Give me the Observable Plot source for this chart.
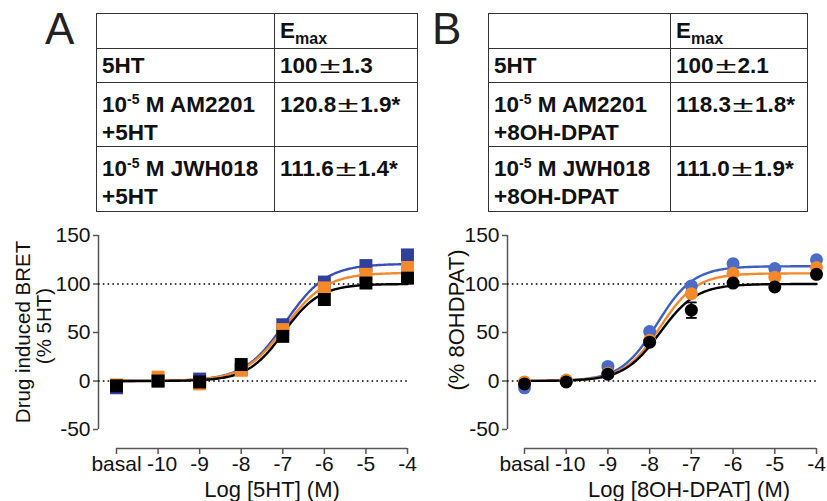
<!DOCTYPE html>
<html><head><meta charset="utf-8">
<script src="https://cdn.jsdelivr.net/npm/d3@7"></script>
<script src="https://cdn.jsdelivr.net/npm/@observablehq/plot@0.6"></script>
<style>
body{margin:0;background:#fff;}
#root{position:relative;width:827px;height:501px;overflow:hidden;font-family:Arial,"Liberation Sans",sans-serif;background:#fff;}
.letter{position:absolute;font-size:44px;color:#222;line-height:1;}
table.t{position:absolute;border-collapse:collapse;table-layout:fixed;font-weight:bold;font-size:22.5px;color:#111;}
table.t td{border:1.5px solid #333;vertical-align:top;padding:4px 0 0 5px;line-height:26px;white-space:nowrap;overflow:hidden;}
table.t tr.two td{padding-top:9px;}
.pm{display:inline-block;width:24px;text-align:center;font-weight:normal;transform:scaleX(1.7);}
.sp{font-size:14px;position:relative;top:-8px;}
.sub{font-size:16px;position:relative;top:6px;}
.panel{position:absolute;top:220px;}
</style>
</head><body><div id="root"></div>
<script>
// ---------- table data ----------
const agonistA = "5HT";
const agonistB = "8OH-DPAT";
const cannabinoids = ["AM2201", "JWH018"];
const pretreatConc = "10";
const pretreatExp = "-5";
const emaxA = [100, 120.8, 111.6];
const emaxSemA = [1.3, 1.9, 1.4];
const emaxSigA = [false, true, true];
const emaxB = [100, 118.3, 111.0];
const emaxSemB = [2.1, 1.8, 1.9];
const emaxSigB = [false, true, true];
const controlLabelB = "5HT";

// ---------- curve data ----------
const logConc = [-11, -10, -9, -8, -7, -6, -5, -4];
const xTickLabels = ["basal", "-10", "-9", "-8", "-7", "-6", "-5", "-4"];
const yTicks = [-50, 0, 50, 100, 150];
const refLines = [0, 100];

// Panel A (squares): 5HT alone, +AM2201, +JWH018
const respA_5HT    = [-5, 0, -1, 17, 46, 84, 101, 106];
const respA_AM2201 = [-7, 0, 2, 12, 58, 102, 119, 130];
const respA_JWH018 = [-4, 4, -3, 11, 53, 96, 110, 117];
const errA_5HT     = [2, 2, 2, 3, 3, 3, 2, 2];
const errA_AM2201  = [2, 2, 2, 2, 3, 3, 2, 2];
const errA_JWH018  = [2, 2, 2, 2, 3, 3, 2, 2];
const fitEC50A = [-6.98, -6.94, -6.95];
const fitHillA = [1.0, 0.88, 0.88];

// Panel B (circles): 8OH-DPAT alone, +AM2201, +JWH018
const respB_8OH    = [-3, -1, 7, 40, 73, 101, 97, 110];
const respB_AM2201 = [-7, 0, 15, 51, 98, 121, 116, 125];
const respB_JWH018 = [-1, 1, 8, 42, 90, 111, 107, 117];
const errB_8OH     = [2, 1, 2, 3, 8, 2, 3, 3];
const errB_AM2201  = [2, 1, 3, 3, 3, 2, 2, 2];
const errB_JWH018  = [2, 1, 2, 3, 3, 2, 2, 2];
const fitEC50B = [-7.75, -7.82, -7.75];
const fitHillB = [1.0, 1.0, 1.0];

const root = document.getElementById("root");

// ---------- letters ----------
function letter(t, left) {
  const d = document.createElement("div");
  d.className = "letter"; d.textContent = t;
  d.style.left = left + "px"; d.style.top = "7px";
  root.appendChild(d);
}
letter("A", 45);
letter("B", 432);

// ---------- tables ----------
function fmt(v) { return v === 100 ? "100" : v.toFixed(1); }
function makeTable(left, colW, agonist, control, emax, sem, sig) {
  const rows = [
    {cls: "", c1: "", c2: 'E<span class="sub">max</span>', h: 35},
    {cls: "", c1: control, c2: fmt(emax[0]) + '<span class="pm">±</span>' + sem[0].toFixed(1) + (sig[0] ? "*" : ""), h: 34},
  ];
  cannabinoids.forEach((c, i) => {
    rows.push({cls: "two",
      c1: pretreatConc + '<span class="sp">' + pretreatExp + '</span> M ' + c + "<br>+" + agonist,
      c2: fmt(emax[i + 1]) + '<span class="pm">±</span>' + sem[i + 1].toFixed(1) + (sig[i + 1] ? "*" : ""),
      h: i === 0 ? 64 : 65});
  });
  const t = document.createElement("table");
  t.className = "t";
  t.style.left = left + "px"; t.style.top = "13px";
  t.style.width = (colW[0] + colW[1]) + "px";
  t.innerHTML = `<colgroup><col style="width:${colW[0]}px"><col style="width:${colW[1]}px"></colgroup>` +
    rows.map(r => `<tr class="${r.cls}" style="height:${r.h}px"><td>${r.c1}</td><td>${r.c2}</td></tr>`).join("");
  root.appendChild(t);
}
makeTable(96, [178, 143], agonistA, agonistA, emaxA, emaxSemA, emaxSigA);
makeTable(488, [182, 137], agonistB, controlLabelB, emaxB, emaxSemB, emaxSigB);

// ---------- charts ----------
const capSymbol = {draw(ctx, size) { const w = Math.sqrt(size); ctx.moveTo(-w, 0); ctx.lineTo(w, 0); }};

function makePanel(cfg) {
  const H = 281, MT = 15, MB = 53;
  const xmin = d3.min(logConc), xmax = d3.max(logConc);
  const pxX = (cfg.width - cfg.marginRight - cfg.marginLeft - cfg.yGap) / (xmax - xmin);
  const x0 = xmin - cfg.yGap / pxX;
  const pxY = (H - MT - MB - cfg.xGap) / (yTicks[yTicks.length - 1] - yTicks[0]);
  const y0 = yTicks[0] - cfg.xGap / pxY;
  const grid = d3.range(xmin, xmax + 0.001, 0.05);
  const shifted = logConc[1]; // "-10" label sits a little right of its tick
  const axisStyle = {stroke: "#555", strokeWidth: 1.5, fill: "#111", label: null};
  const marks = [
    Plot.ruleX([{x: x0, y1: yTicks[0], y2: yTicks[yTicks.length - 1]}], {x: "x", y1: "y1", y2: "y2", stroke: "#555", strokeWidth: 1.5}),
    Plot.ruleY([{y: y0, x1: xmin, x2: xmax}], {y: "y", x1: "x1", x2: "x2", stroke: "#555", strokeWidth: 1.5}),
    Plot.axisY({...axisStyle, ticks: yTicks, tickSize: 5, tickPadding: 3,
      tickFormat: d => (d < 0 ? "-" + Math.abs(d) : String(d))}),
    Plot.axisX({...axisStyle, ticks: logConc, tickSize: 6, tickPadding: 2,
      tickFormat: d => (d === shifted ? "" : xTickLabels[logConc.indexOf(d)])}),
    Plot.axisX({...axisStyle, ticks: [shifted], tickSize: 0, tickPadding: 8, dx: 4,
      tickFormat: d => xTickLabels[logConc.indexOf(d)]}),
    Plot.ruleY(refLines.map(v => ({y: v, x1: x0, x2: xmax})), {y: "y", x1: "x1", x2: "x2", stroke: "#000", strokeWidth: 1.6, strokeDasharray: "1.6 3.2"}),
  ];
  // draw order: AM2201 (blue), JWH018 (orange), control (black)
  const order = [1, 2, 0];
  order.forEach(i => {
    const s = cfg.series[i];
    const pts = grid.map(x => ({x, y: s.top / (1 + Math.pow(10, s.hill * (s.ec50 - x)))}));
    marks.push(Plot.line(pts, {x: "x", y: "y", stroke: s.lineColor, strokeWidth: 2.4}));
  });
  order.forEach(i => {
    const s = cfg.series[i];
    const pts = logConc.map((x, j) => ({x, y: s.resp[j], lo: s.resp[j] - s.err[j], hi: s.resp[j] + s.err[j]}));
    marks.push(Plot.ruleX(pts, {x: "x", y1: "lo", y2: "hi", stroke: s.color, strokeWidth: 1.8}));
    marks.push(Plot.dot(pts, {x: "x", y: "lo", symbol: capSymbol, r: 3, stroke: s.color, strokeWidth: 1.8}));
    marks.push(Plot.dot(pts, {x: "x", y: "hi", symbol: capSymbol, r: 3, stroke: s.color, strokeWidth: 1.8}));
    marks.push(Plot.dot(pts, {x: "x", y: "y", symbol: cfg.symbol, r: cfg.r, fill: s.color, stroke: "none"}));
  });
  cfg.ytitles.forEach(t => marks.push(Plot.text([t.text], {frameAnchor: "left", rotate: -90, dx: t.dx, dy: t.dy, fontSize: t.size, fill: "#111", lineAnchor: "middle", textAnchor: "middle"})));
  marks.push(Plot.text([cfg.xtitle], {frameAnchor: "bottom", dx: cfg.xtitleDx, dy: 41, fontSize: 22, fill: "#111", lineAnchor: "middle", textAnchor: "middle"}));
  const svg = Plot.plot({
    width: cfg.width, height: H, marginTop: MT, marginBottom: MB,
    marginLeft: cfg.marginLeft, marginRight: cfg.marginRight,
    x: {domain: [x0, xmax]}, y: {domain: [y0, yTicks[yTicks.length - 1]]},
    style: {fontFamily: "Arial, 'Liberation Sans', sans-serif", fontSize: "21px", background: "transparent", overflow: "visible", color: "#111"},
    marks
  });
  svg.classList.add("panel");
  svg.style.left = cfg.left + "px";
  svg.style.position = "absolute";
  svg.style.top = "220px";
  root.appendChild(svg);
}

const blueA = "#2f3f9c", blueLineA = "#3a50b3";
const blueB = "#4a6cc6", blueLineB = "#3f5fbd";
const orange = "#f28a2b", black = "#000";

makePanel({
  left: 0, width: 420, marginLeft: 98, marginRight: 13, yGap: 18, xGap: 19,
  symbol: "square", r: 7.3,
  series: [
    {resp: respA_5HT, err: errA_5HT, top: emaxA[0], ec50: fitEC50A[0], hill: fitHillA[0], color: black, lineColor: black},
    {resp: respA_AM2201, err: errA_AM2201, top: emaxA[1], ec50: fitEC50A[1], hill: fitHillA[1], color: blueA, lineColor: blueLineA},
    {resp: respA_JWH018, err: errA_JWH018, top: emaxA[2], ec50: fitEC50A[2], hill: fitHillA[2], color: orange, lineColor: orange},
  ],
  ytitles: [
    {text: "Drug induced BRET", dx: -75, dy: -10, size: 20.5},
    {text: "(% 5HT)", dx: -54, dy: -16, size: 20.5},
  ],
  xtitle: "Log [5HT] (M)", xtitleDx: 19
});

makePanel({
  left: 410, width: 417, marginLeft: 97, marginRight: 11, yGap: 17, xGap: 19,
  symbol: "circle", r: 6.5,
  series: [
    {resp: respB_8OH, err: errB_8OH, top: emaxB[0], ec50: fitEC50B[0], hill: fitHillB[0], color: black, lineColor: black},
    {resp: respB_AM2201, err: errB_AM2201, top: emaxB[1], ec50: fitEC50B[1], hill: fitHillB[1], color: blueB, lineColor: blueLineB},
    {resp: respB_JWH018, err: errB_JWH018, top: emaxB[2], ec50: fitEC50B[2], hill: fitHillB[2], color: orange, lineColor: orange},
  ],
  ytitles: [
    {text: "(% 8OHDPAT)", dx: -51, dy: -22, size: 22},
  ],
  xtitle: "Log [8OH-DPAT] (M)", xtitleDx: 27
});
</script>
</body></html>
